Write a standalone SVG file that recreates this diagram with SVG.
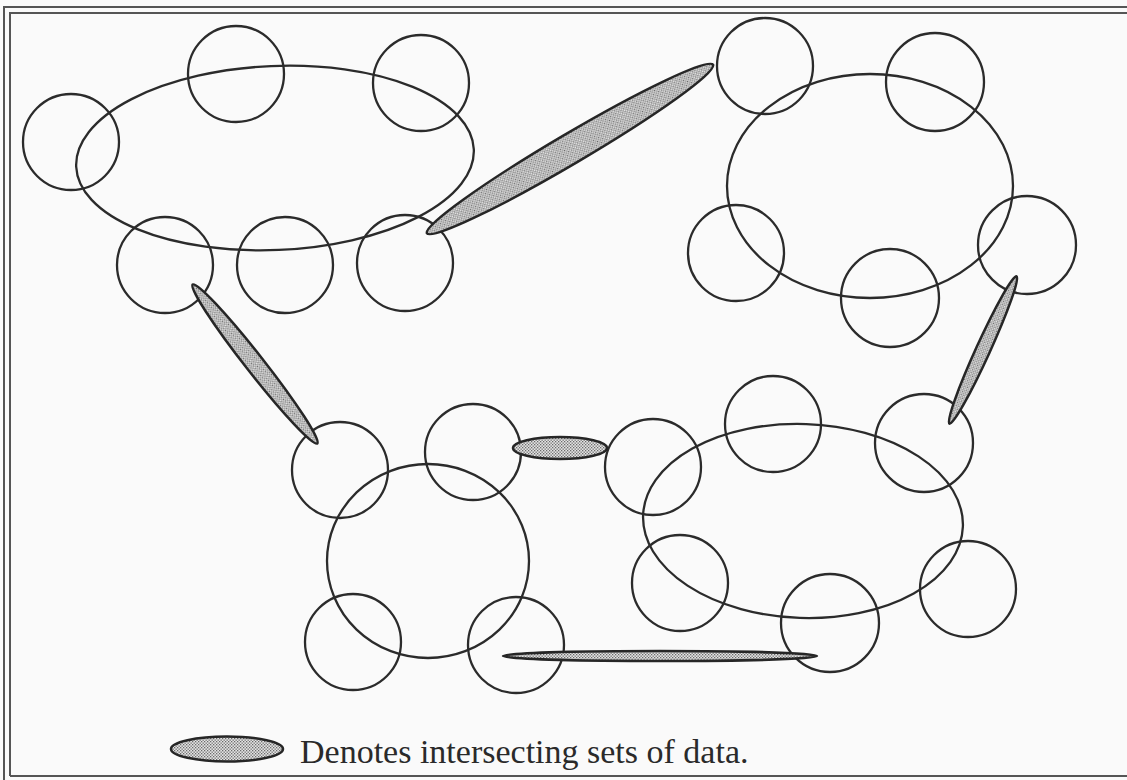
<svg xmlns="http://www.w3.org/2000/svg" width="1127" height="780" viewBox="0 0 1127 780">
  <defs>
    <!-- stippled fill for the overlap lenses -->
    <pattern id="stipple" width="3" height="3" patternUnits="userSpaceOnUse">
      <rect width="3" height="3" fill="#e4e4e4"/>
      <rect x="0" y="0" width="1.3" height="1.3" fill="#6a6a6a"/>
      <rect x="1.5" y="1.5" width="1.3" height="1.3" fill="#6a6a6a"/>
    </pattern>
    <style>
      .set { fill: none; stroke: #2b2b2b; stroke-width: 2.3; }
      .lens { fill: url(#stipple); stroke: #262626; stroke-width: 2.5; }
      .frame { fill: none; stroke: #555; stroke-width: 2; }
      .caption { font-family: "Liberation Serif", "Times New Roman", serif; font-size: 34px; fill: #2a2a2a; }
    </style>
  </defs>

  <rect width="1127" height="780" fill="#fafafa"/>

  <!-- double frame -->
  <g id="frame">
    <path class="frame" d="M4,780 V7 H1127"/>
    <path class="frame" d="M10,776 V13 H1127"/>
    <path class="frame" d="M10,776 H1127"/>
  </g>

  <!-- cluster 1: upper left -->
  <g id="cluster-upper-left">
    <ellipse class="set" cx="275" cy="158" rx="199" ry="92" transform="rotate(-2.5 275 158)"/>
    <circle class="set" cx="71" cy="142" r="48"/>
    <circle class="set" cx="236" cy="74" r="48"/>
    <circle class="set" cx="421" cy="83" r="48"/>
    <circle class="set" cx="165" cy="265" r="48"/>
    <circle class="set" cx="285" cy="265" r="48"/>
    <circle class="set" cx="405" cy="263" r="48"/>
  </g>

  <!-- cluster 2: upper right -->
  <g id="cluster-upper-right">
    <ellipse class="set" cx="870" cy="186" rx="143" ry="112"/>
    <circle class="set" cx="765" cy="66" r="48"/>
    <circle class="set" cx="935" cy="82" r="49"/>
    <circle class="set" cx="736" cy="253" r="48"/>
    <circle class="set" cx="890" cy="298" r="49"/>
    <circle class="set" cx="1027" cy="245" r="49"/>
  </g>

  <!-- cluster 3: lower left -->
  <g id="cluster-lower-left">
    <ellipse class="set" cx="428" cy="561" rx="101" ry="97"/>
    <circle class="set" cx="340" cy="470" r="48"/>
    <circle class="set" cx="473" cy="452" r="48"/>
    <circle class="set" cx="353" cy="642" r="48"/>
    <circle class="set" cx="516" cy="645" r="48"/>
  </g>

  <!-- cluster 4: lower right -->
  <g id="cluster-lower-right">
    <ellipse class="set" cx="803" cy="521" rx="160" ry="97" transform="rotate(2 803 521)"/>
    <circle class="set" cx="653" cy="467" r="48"/>
    <circle class="set" cx="773" cy="424" r="48"/>
    <circle class="set" cx="924" cy="443" r="49"/>
    <circle class="set" cx="680" cy="583" r="48"/>
    <circle class="set" cx="830" cy="623" r="49"/>
    <circle class="set" cx="968" cy="589" r="48"/>
  </g>

  <!-- intersecting data between clusters -->
  <g id="connectors">
    <ellipse class="lens" cx="570" cy="149" rx="166" ry="15" transform="rotate(-30.5 570 149)"/>
    <ellipse class="lens" cx="255" cy="364" rx="101" ry="9" transform="rotate(51.9 255 364)"/>
    <ellipse class="lens" cx="983" cy="350" rx="81" ry="7" transform="rotate(-65.5 983 350)"/>
    <ellipse class="lens" cx="560" cy="448" rx="47" ry="11"/>
    <ellipse class="lens" cx="660" cy="656" rx="157" ry="5"/>
  </g>

  <!-- legend -->
  <g id="legend">
    <ellipse class="lens" cx="227" cy="749" rx="56" ry="12.5"/>
    <text class="caption" x="300" y="763">Denotes intersecting sets of data.</text>
  </g>
</svg>
